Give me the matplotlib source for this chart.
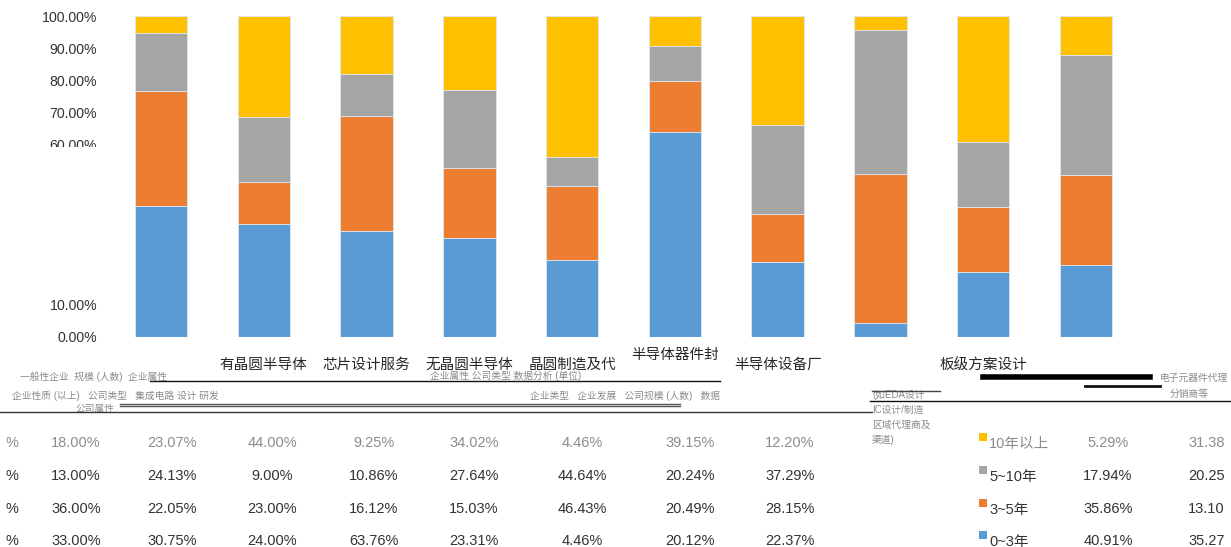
import matplotlib.pyplot as plt
from matplotlib.patches import Rectangle
from matplotlib.lines import Line2D
import matplotlib.transforms as mtransforms

# ========= DATA =========
categories = ["", "有晶圆半导体", "芯片设计服务", "无晶圆半导体", "晶圆制造及代",
              "半导体器件封", "半导体设备厂", "", "板级方案设计", ""]
series_names = ["0~3年", "3~5年", "5~10年", "10年以上"]
yrs_0_3 = [40.91, 35.27, 33.00, 30.75, 24.00, 63.76, 23.31, 4.46, 20.12, 22.37]
yrs_3_5 = [35.86, 13.10, 36.00, 22.05, 23.00, 16.12, 15.03, 46.43, 20.49, 28.15]
yrs_5_10 = [17.94, 20.25, 13.00, 24.13, 9.00, 10.86, 27.64, 44.64, 20.24, 37.29]
yrs_10_plus = [5.29, 31.38, 18.00, 23.07, 44.00, 9.25, 34.02, 4.46, 39.15, 12.20]
ytick_vals = [0, 10, 60, 70, 80, 90, 100]
# order in which the (broken) data table shows the bars
table_left_cols = [2, 3, 4, 5, 6, 7, 8, 9]
table_right_cols = [0, 1]
# ========================

colors = ["#5B9BD5", "#ED7D31", "#A5A5A5", "#FFC000"]
series = [yrs_0_3, yrs_3_5, yrs_5_10, yrs_10_plus]

plt.rcParams["font.family"] = ["Liberation Sans", "Noto Sans CJK SC", "DejaVu Sans"]

W, H = 1231, 547
fig = plt.figure(figsize=(W / 100, H / 100), dpi=100)


def fx(px):
    return px / W


def fy(py):
    return 1 - py / H


ax = fig.add_axes([fx(109.6), fy(337), fx(1137.4 - 109.6), 321 / H])

x = list(range(len(yrs_0_3)))
bottom = [0] * len(x)
for vals, col, name in zip(series, colors, series_names):
    ax.bar(x, vals, bottom=bottom, width=0.51, color=col, edgecolor="#dce6f2",
           linewidth=0.6, label=name)
    bottom = [b + v for b, v in zip(bottom, vals)]

ax.set_xlim(-0.5, len(x) - 0.5)
ax.set_ylim(0, 100)
ax.set_yticks(ytick_vals)
ax.set_yticklabels([f"{v:.2f}%" for v in ytick_vals], fontsize=10.2, color="#333333")
ax.tick_params(axis="y", length=0, pad=9)
ax.set_xticks([])
for s in ax.spines.values():
    s.set_visible(False)

# 60% label is cut in half in the reference
fig.add_artist(Rectangle((fx(20), fy(300)), fx(85), (300 - 146.5) / H,
                         transform=fig.transFigure, facecolor="white",
                         edgecolor="none", zorder=4))

# ---- category labels (partly hidden) ----
trans = mtransforms.blended_transform_factory(ax.transData, fig.transFigure)
for i, lab in enumerate(categories):
    if not lab:
        continue
    ypx = 355 if i == 5 else 365
    ax.text(i, fy(ypx), lab, transform=trans, ha="center", va="center",
            fontsize=10.5, color="#262626", clip_on=False)

fig.add_artist(Rectangle((fx(200), fy(379)), fx(1031), 9.5 / H,
                         transform=fig.transFigure, facecolor="white",
                         edgecolor="none", zorder=4))

# garbled fragments of the broken table header
frag_col = "#8a8a8a"
for txt, xp, yp in [
    ("一般性企业  规模 (人数)  企业属性", 20, 377),
    ("企业性质 (以上)   公司类型   集成电路 设计 研发", 12, 396),
    ("公司属性", 75, 409),
    ("企业类型   企业发展   公司规模 (人数)   数据", 530, 396),
    ("企业属性 公司类型 数据分析 (单位)", 430, 376),
    ("(如EDA设计", 872, 395),
    ("IC设计/制造", 872, 410),
    ("区域代理商及", 872, 425),
    ("渠道)", 872, 440),
    ("电子元器件代理", 1160, 378),
    ("分销商等", 1170, 394),
]:
    fig.text(fx(xp), fy(yp), txt, fontsize=7, color=frag_col, va="center",
             ha="left", zorder=6)

for (x0, x1, yp, lw, c) in [
    (150, 720, 380.5, 1.0, "#111111"),
    (120, 680, 403.5, 1.0, "#555555"),
    (120, 680, 406.0, 1.0, "#555555"),
    (870, 1231, 400.5, 1.0, "#111111"),
    (0, 872, 411.5, 1.0, "#333333"),
    (983, 1150, 377.0, 4.0, "#000000"),
    (1085, 1160, 386.0, 2.0, "#111111"),
    (872, 940, 390.5, 1.0, "#444444"),
]:
    fig.add_artist(Line2D([fx(x0), fx(x1)], [fy(yp), fy(yp)], color=c,
                          linewidth=lw, transform=fig.transFigure, zorder=7))

# ---- data table ----
row_y = [443, 476, 509, 541]
left_centres = [76, 172, 272, 374, 474, 582, 690, 790]
row_series = [yrs_10_plus, yrs_5_10, yrs_3_5, yrs_0_3]
row_colors = ["#8c8c8c", "#333333", "#333333", "#333333"]
legend_cols = ["#FFC000", "#A5A5A5", "#ED7D31", "#5B9BD5"]
legend_names = ["10年以上", "5~10年", "3~5年", "0~3年"]

for r, (vals, yp) in enumerate(zip(row_series, row_y)):
    tc = row_colors[r]
    fig.text(fx(12), fy(yp), "%", fontsize=10.5, color=tc, ha="center", va="center")
    for cx, idx in zip(left_centres, table_left_cols):
        fig.text(fx(cx), fy(yp), f"{vals[idx]:.2f}%", fontsize=10.5, color=tc,
                 ha="center", va="center")
    # legend key
    fig.add_artist(Rectangle((fx(979), fy(yp - 2)), fx(8), 8 / H,
                             transform=fig.transFigure, facecolor=legend_cols[r],
                             edgecolor="none"))
    fig.text(fx(989), fy(yp + 1), legend_names[r], fontsize=10.5, color=tc,
             ha="left", va="center")
    fig.text(fx(1108), fy(yp), f"{vals[table_right_cols[0]]:.2f}%", fontsize=10.5,
             color=tc, ha="center", va="center")
    # last column runs off the right edge in the reference
    fig.text(fx(1188), fy(yp), f"{vals[table_right_cols[1]]:.2f}", fontsize=10.5,
             color=tc, ha="left", va="center")

fig.savefig("out.png", dpi=100)
